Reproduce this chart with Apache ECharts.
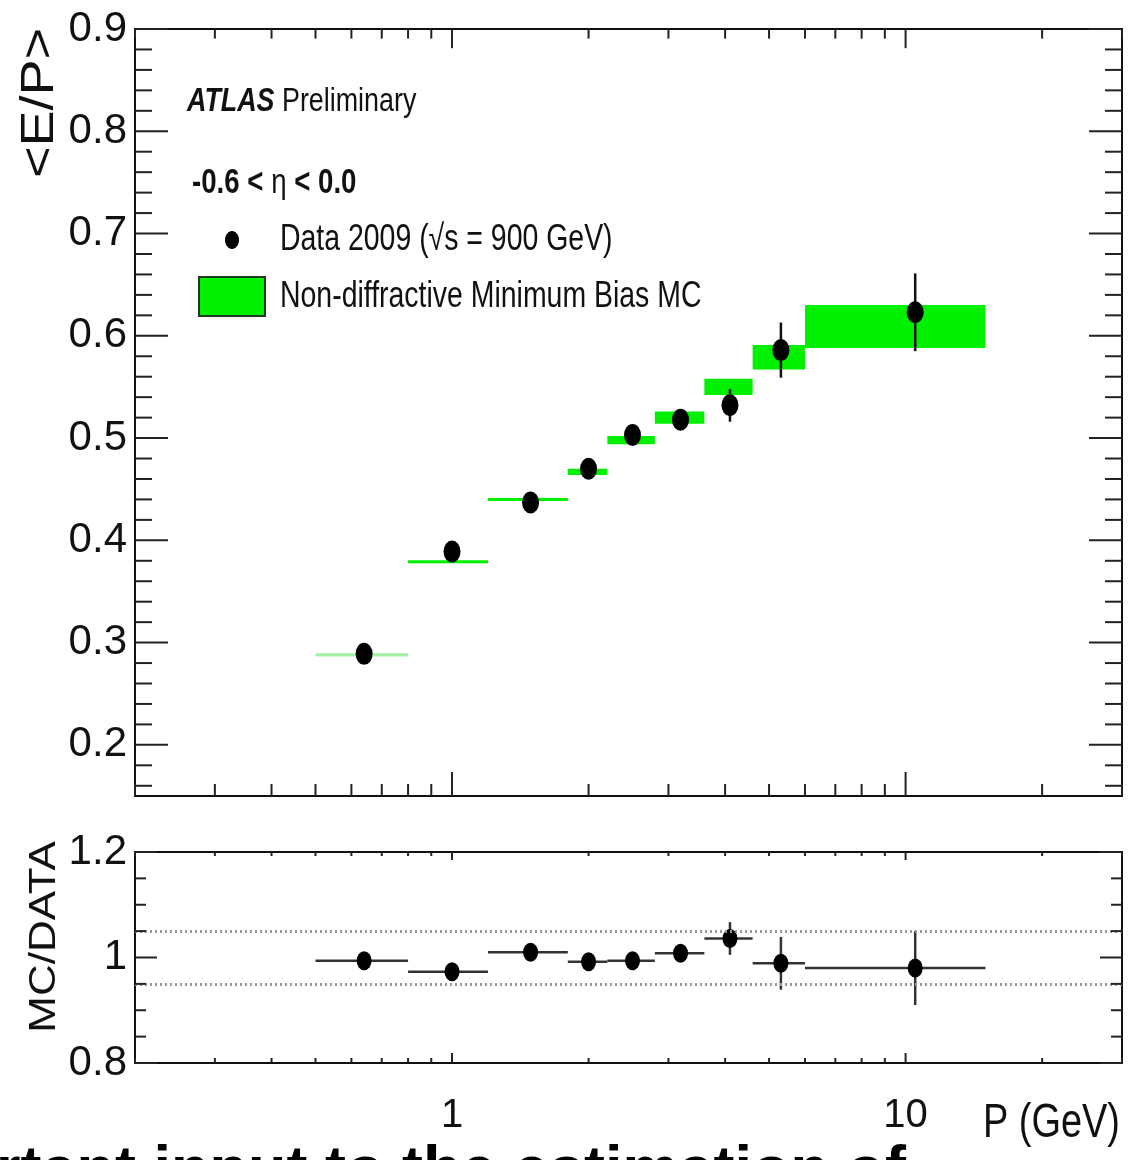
<!DOCTYPE html>
<html>
<head>
<meta charset="utf-8">
<script src="https://cdn.jsdelivr.net/npm/echarts@6/dist/echarts.min.js"></script>
<style>
  html, body { margin: 0; padding: 0; background: #fff; }
  #chart { width: 1137px; height: 1160px; }
</style>
</head>
<body>
<div id="chart"></div>
<script>
// P bins (GeV)
const binLow  = [0.5, 0.8, 1.2, 1.8, 2.2, 2.8, 3.6, 4.6, 6.0];
const binHigh = [0.8, 1.2, 1.8, 2.2, 2.8, 3.6, 4.6, 6.0, 15.0];
// data 2009 points
const dataP   = [0.64, 1.0, 1.49, 2.0, 2.5, 3.19, 4.1, 5.31, 10.5];
const dataEP  = [0.289, 0.389, 0.437, 0.470, 0.503, 0.518, 0.532, 0.586, 0.623];
const dataErr = [0.004, 0.004, 0.004, 0.005, 0.006, 0.007, 0.016, 0.027, 0.038];
// MC band (centre, half height)
const mcEP  = [0.288, 0.379, 0.440, 0.467, 0.498, 0.520, 0.550, 0.579, 0.609];
const mcErr = [0.0015, 0.0015, 0.0015, 0.003, 0.004, 0.006, 0.008, 0.012, 0.021];
// MC / DATA
const ratio    = [0.994, 0.973, 1.010, 0.992, 0.994, 1.008, 1.036, 0.989, 0.980];
const ratioErr = [0.008, 0.008, 0.008, 0.008, 0.008, 0.010, 0.031, 0.050, 0.070];
const ratioRefLines = [0.95, 1.05];

// tick positions
const xMajorTicks = [1, 10];
const xMinorTicks = [0.2, 0.3, 0.4, 0.5, 0.6, 0.7, 0.8, 0.9, 2, 3, 4, 5, 6, 7, 8, 9, 20, 30];
const epMajorTicks = [0.2, 0.3, 0.4, 0.5, 0.6, 0.7, 0.8, 0.9];
const epMinorTicks = [];
for (let k = 8; k <= 44; k++) { if (k % 5 !== 0) epMinorTicks.push(Math.round(k * 2) / 100); }
const ratioMajorTicks = [0.8, 1.0, 1.2];
const ratioMinorTicks = [0.85, 0.9, 0.95, 1.05, 1.1, 1.15];

const SANS = "'Liberation Sans', Arial, sans-serif";
const SQX = 0.79; // picture is squeezed horizontally

const chart = echarts.init(document.getElementById('chart'), null, { renderer: 'canvas' });

// ticks drawn on both edges of a grid, through the axis scales
function xTickSeries(gi, ticks, len, yRef) {
  return {
    type: 'custom', xAxisIndex: gi, yAxisIndex: gi, silent: true, z: 6,
    data: ticks.map(v => [v, yRef]),
    renderItem: (params, api) => {
      const cs = params.coordSys;
      const x = api.coord([api.value(0), yRef])[0];
      const st = { stroke: '#222', lineWidth: 2 };
      return { type: 'group', children: [
        { type: 'line', shape: { x1: x, y1: cs.y + cs.height, x2: x, y2: cs.y + cs.height - len }, style: st },
        { type: 'line', shape: { x1: x, y1: cs.y, x2: x, y2: cs.y + len * 0.8 }, style: st }
      ] };
    }
  };
}
function yTickSeries(gi, ticks, len, xRef) {
  return {
    type: 'custom', xAxisIndex: gi, yAxisIndex: gi, silent: true, z: 6,
    data: ticks.map(v => [xRef, v]),
    renderItem: (params, api) => {
      const cs = params.coordSys;
      const y = api.coord([xRef, api.value(1)])[1];
      const st = { stroke: '#222', lineWidth: 2 };
      return { type: 'group', children: [
        { type: 'line', shape: { x1: cs.x, y1: y, x2: cs.x + len, y2: y }, style: st },
        { type: 'line', shape: { x1: cs.x + cs.width, y1: y, x2: cs.x + cs.width - len, y2: y }, style: st }
      ] };
    }
  };
}

const xAxisBase = {
  type: 'log', logBase: 10, min: 0.2, max: 30,
  axisLine: { show: false }, axisTick: { show: false }, splitLine: { show: false }
};

chart.setOption({
  animation: false,
  backgroundColor: '#fff',
  grid: [
    { left: 135, right: 15, top: 29, height: 767, show: true, borderColor: '#111', borderWidth: 2, backgroundColor: 'transparent' },
    { left: 135, right: 15, top: 852, height: 211, show: true, borderColor: '#111', borderWidth: 2, backgroundColor: 'transparent' }
  ],
  xAxis: [
    Object.assign({ gridIndex: 0, axisLabel: { show: false } }, xAxisBase),
    Object.assign({ gridIndex: 1, axisLabel: {
      show: true, color: '#111', fontFamily: SANS, fontSize: 40, margin: 33,
      formatter: v => (Math.abs(v - 1) < 1e-6 ? '1' : Math.abs(v - 10) < 1e-6 ? '10' : '')
    } }, xAxisBase)
  ],
  yAxis: [
    {
      gridIndex: 0, type: 'value', min: 0.15, max: 0.9, splitNumber: 7,
      axisLine: { show: false }, axisTick: { show: false }, splitLine: { show: false },
      axisLabel: {
        color: '#111', fontFamily: SANS, fontSize: 42, margin: 8,
        formatter: v => (Math.abs(v * 10 - Math.round(v * 10)) < 1e-6 ? v.toFixed(1) : '')
      }
    },
    {
      gridIndex: 1, type: 'value', min: 0.8, max: 1.2, interval: 0.2,
      axisLine: { show: false }, axisTick: { show: false }, splitLine: { show: false },
      axisLabel: {
        color: '#111', fontFamily: SANS, fontSize: 42, margin: 8,
        formatter: v => (Math.abs(v - 1) < 1e-6 ? '1' : v.toFixed(1))
      }
    }
  ],
  series: [
    // MC band
    {
      type: 'custom', xAxisIndex: 0, yAxisIndex: 0, z: 2,
      data: binLow.map((lo, i) => [lo, binHigh[i], mcEP[i], mcErr[i]]),
      encode: { x: [0, 1], y: 2 },
      renderItem: (params, api) => {
        const p1 = api.coord([api.value(0), api.value(2) + api.value(3)]);
        const p2 = api.coord([api.value(1), api.value(2) - api.value(3)]);
        const h = Math.max(p2[1] - p1[1], 3);
        const cy = (p1[1] + p2[1]) / 2;
        return {
          type: 'rect',
          shape: { x: p1[0], y: cy - h / 2, width: p2[0] - p1[0], height: h },
          style: { fill: params.dataIndex === 0 ? '#a4f2a4' : '#00f000' }
        };
      }
    },
    // data error bars
    {
      type: 'custom', xAxisIndex: 0, yAxisIndex: 0, z: 3,
      data: dataP.map((p, i) => [p, dataEP[i], dataErr[i]]),
      encode: { x: 0, y: 1 },
      renderItem: (params, api) => {
        const a = api.coord([api.value(0), api.value(1) + api.value(2)]);
        const b = api.coord([api.value(0), api.value(1) - api.value(2)]);
        return { type: 'line', shape: { x1: a[0], y1: a[1], x2: b[0], y2: b[1] }, style: { stroke: '#111', lineWidth: 2.5 } };
      }
    },
    {
      type: 'scatter', xAxisIndex: 0, yAxisIndex: 0, z: 4,
      symbol: 'circle', symbolSize: [17, 22],
      itemStyle: { color: '#000', opacity: 1 },
      data: dataP.map((p, i) => [p, dataEP[i]])
    },
    // ratio bars
    {
      type: 'custom', xAxisIndex: 1, yAxisIndex: 1, z: 3,
      data: dataP.map((p, i) => [p, ratio[i], ratioErr[i], binLow[i], binHigh[i]]),
      encode: { x: 0, y: 1 },
      renderItem: (params, api) => {
        const l = api.coord([api.value(3), api.value(1)]);
        const r = api.coord([api.value(4), api.value(1)]);
        const a = api.coord([api.value(0), api.value(1) + api.value(2)]);
        const b = api.coord([api.value(0), api.value(1) - api.value(2)]);
        const st = { stroke: '#333', lineWidth: 2.5 };
        return { type: 'group', children: [
          { type: 'line', shape: { x1: l[0], y1: l[1], x2: r[0], y2: r[1] }, style: st },
          { type: 'line', shape: { x1: a[0], y1: a[1], x2: b[0], y2: b[1] }, style: st }
        ] };
      }
    },
    {
      type: 'scatter', xAxisIndex: 1, yAxisIndex: 1, z: 4,
      symbol: 'circle', symbolSize: [15, 19],
      itemStyle: { color: '#000', opacity: 1 },
      data: dataP.map((p, i) => [p, ratio[i]]),
      markLine: {
        silent: true, symbol: ['none', 'none'], label: { show: false },
        lineStyle: { type: [2, 3], color: '#999', width: 3 },
        data: ratioRefLines.map(v => ({ yAxis: v }))
      }
    },
    // frame ticks
    xTickSeries(0, xMinorTicks, 12, 0.5),
    xTickSeries(0, xMajorTicks, 24, 0.5),
    yTickSeries(0, epMinorTicks, 17, 1),
    yTickSeries(0, epMajorTicks, 33, 1),
    xTickSeries(1, xMinorTicks, 5, 1),
    xTickSeries(1, xMajorTicks, 10, 1),
    yTickSeries(1, ratioMinorTicks, 11, 1),
    yTickSeries(1, ratioMajorTicks, 22, 1)
  ],
  graphic: [
    { type: 'text', x: 40, y: 103, rotation: Math.PI / 2, scaleY: 0.85,
      style: { text: '<E/P>', font: '54px ' + SANS, fill: '#111', align: 'center', verticalAlign: 'middle' } },
    { type: 'text', x: 45, y: 937, rotation: Math.PI / 2, scaleY: 0.85,
      style: { text: 'MC/DATA', font: '44px ' + SANS, fill: '#111', align: 'center', verticalAlign: 'middle' } },
    { type: 'text', x: 1120, y: 1124, scaleX: SQX,
      style: { text: 'P (GeV)', font: '48px ' + SANS, fill: '#111', align: 'right', verticalAlign: 'middle' } },
    { type: 'text', x: 187, y: 102, scaleX: SQX,
      style: {
        text: '{a|ATLAS }{b|Preliminary}', verticalAlign: 'middle', fill: '#111',
        rich: {
          a: { fontFamily: SANS, fontSize: 34, fontWeight: 'bold', fontStyle: 'italic', fill: '#111' },
          b: { fontFamily: SANS, fontSize: 34, fill: '#111' }
        }
      } },
    { type: 'text', x: 192, y: 183, scaleX: SQX,
      style: {
        text: '{b|-0.6 < }{e|η}{b| < 0.0}', verticalAlign: 'middle', fill: '#111',
        rich: {
          b: { fontFamily: SANS, fontSize: 35, fontWeight: 'bold', fill: '#111' },
          e: { fontFamily: SANS, fontSize: 35, fill: '#111' }
        }
      } },
    { type: 'ellipse', shape: { cx: 232, cy: 240, rx: 7, ry: 9 }, style: { fill: '#000' } },
    { type: 'text', x: 280, y: 240, scaleX: SQX,
      style: { text: 'Data 2009 (√s = 900 GeV)', font: '36px ' + SANS, fill: '#111', verticalAlign: 'middle' } },
    { type: 'rect', shape: { x: 199, y: 277, width: 66, height: 39 }, style: { fill: '#00f000', stroke: '#1e3a1e', lineWidth: 2 } },
    { type: 'text', x: 280, y: 297, scaleX: SQX,
      style: { text: 'Non-diffractive Minimum Bias MC', font: '36px ' + SANS, fill: '#111', verticalAlign: 'middle' } },
    { type: 'text', x: -4, y: 1141, z: 10,
      style: { text: 'rtant input to the estimation of', font: 'bold 63px ' + SANS, fill: '#000', verticalAlign: 'top' } }
  ]
});
</script>
</body>
</html>
